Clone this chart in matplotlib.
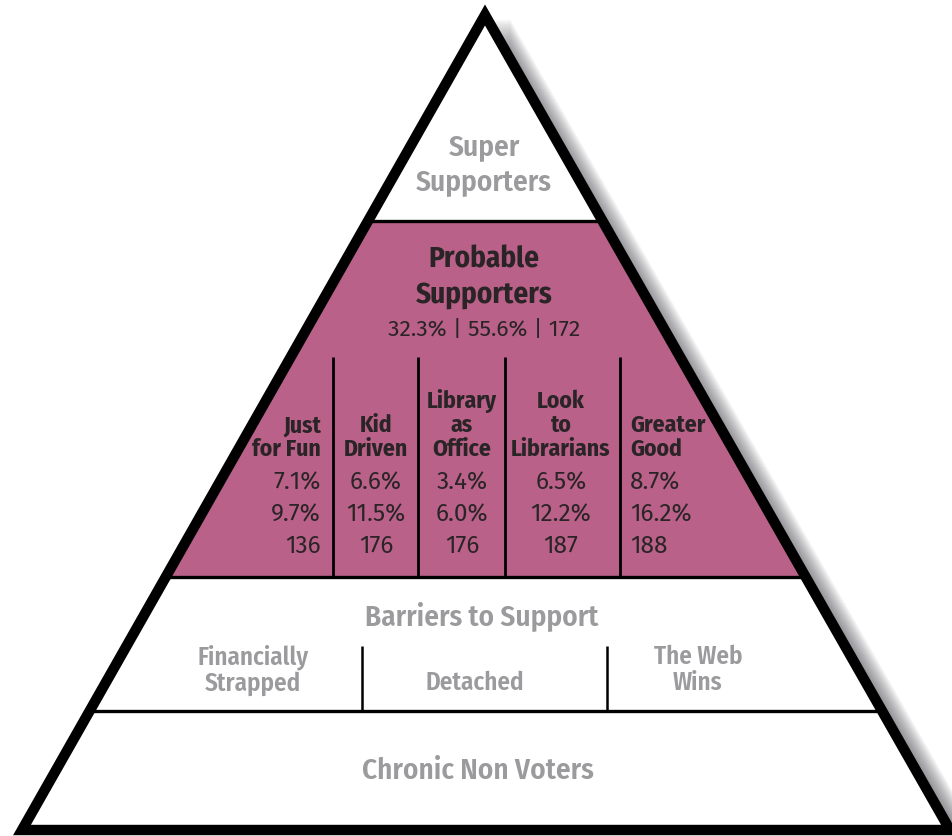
import matplotlib
matplotlib.use("Agg")
import matplotlib.pyplot as plt
from matplotlib import font_manager
from matplotlib.patches import Polygon, Rectangle

# segment data
top_label = "Super\nSupporters"
probable_label = "Probable\nSupporters"
probable_stats = ["32.3%", "55.6%", "172"]
groups = ["Just\nfor Fun", "Kid\nDriven", "Library\nas\nOffice", "Look\nto\nLibrarians", "Greater\nGood"]
share_a = ["7.1%", "6.6%", "3.4%", "6.5%", "8.7%"]
share_b = ["9.7%", "11.5%", "6.0%", "12.2%", "16.2%"]
counts = ["136", "176", "176", "187", "188"]
barrier_label = "Barriers to Support"
barrier_groups = ["Financially\nStrapped", "Detached", "The Web\nWins"]
bottom_label = "Chronic Non Voters"

PINK = "#b96188"
GREY = "#9b9b9e"
DARK = "#2a2426"

installed = {f.name for f in font_manager.fontManager.ttflist}
pref = ["Fira Sans Condensed", "Roboto Condensed", "PT Sans Narrow", "Liberation Sans"]
main_font = next((f for f in pref if f in installed), "DejaVu Sans")
num_font = next((f for f in ["Fira Sans", "Noto Sans", "Open Sans"] if f in installed), main_font)
FONT = [main_font, "DejaVu Sans"]
NUMFONT = [num_font, "DejaVu Sans"]

fig = plt.figure(figsize=(9.53, 8.36), dpi=100)
ax = fig.add_axes([0, 0, 1, 1])
ax.set_xlim(0, 953)
ax.set_ylim(836, 0)
ax.axis("off")

apex, bl, br = (485, 15), (22, 830), (950, 830)
tri = [apex, br, bl]

# soft shadow on the right side
for i in range(2, 26):
    sh = Polygon([(apex[0] + i, apex[1] + 4), (br[0] + i, br[1]), (apex[0], br[1])],
                 closed=True, facecolor="#55555c", edgecolor="none", alpha=0.045, zorder=1)
    ax.add_patch(sh)

base = Polygon(tri, closed=True, facecolor="white", edgecolor="none", zorder=2)
ax.add_patch(base)

# pink band
band = Rectangle((0, 221), 953, 577 - 221, facecolor=PINK, edgecolor="none", zorder=3)
ax.add_patch(band)
band.set_clip_path(base)

# horizontal separators
for y in [221, 577, 711]:
    ln, = ax.plot([0, 953], [y, y], color="black", lw=2.4, zorder=4, solid_capstyle="butt")
    ln.set_clip_path(base)

# column separators
for x in [333, 418, 505, 620]:
    ax.plot([x, x], [357, 577], color="black", lw=2.0, zorder=4, solid_capstyle="butt")
for x in [362, 607]:
    ax.plot([x, x], [646, 711], color="black", lw=1.8, zorder=4, solid_capstyle="butt")

outline = Polygon(tri, closed=True, facecolor="none", edgecolor="black", lw=7.5,
                  joinstyle="miter", zorder=5)
ax.add_patch(outline)

# texts
ax.text(484, 164, top_label, ha="center", va="center", fontsize=21, fontweight="semibold",
        color=GREY, family=FONT, linespacing=1.3)
ax.text(484, 277, probable_label, ha="center", va="center", fontsize=21, fontweight="bold",
        color=DARK, family=FONT, linespacing=1.3)
ax.text(484, 330, " | ".join(probable_stats), ha="center", va="center", fontsize=16.5,
        color=DARK, family=NUMFONT)

col_x = [321, 376, 462, 561, 630]
col_ha = ["right", "center", "center", "center", "left"]
for g, a, b, c, x, ha in zip(groups, share_a, share_b, counts, col_x, col_ha):
    ax.text(x, 461, g, ha=ha, va="bottom", fontsize=17, fontweight="bold", color=DARK,
            family=FONT, linespacing=1.05, multialignment=ha)
    for y, v in zip([483, 515, 546], [a, b, c]):
        ax.text(x, y, v, ha=ha, va="center", fontsize=17.5, color=DARK, family=NUMFONT)

ax.text(482, 616, barrier_label, ha="center", va="center", fontsize=21, fontweight="semibold",
        color=GREY, family=FONT)
for g, x in zip(barrier_groups, [253, 475, 698]):
    y = 670 if "\n" in g else 683
    ax.text(x, y, g, ha="center", va="center", fontsize=18, fontweight="semibold", color=GREY,
            family=FONT, linespacing=1.05)
ax.text(478, 771, bottom_label, ha="center", va="center", fontsize=21, fontweight="semibold",
        color=GREY, family=FONT)

fig.savefig("out.png", dpi=100)
